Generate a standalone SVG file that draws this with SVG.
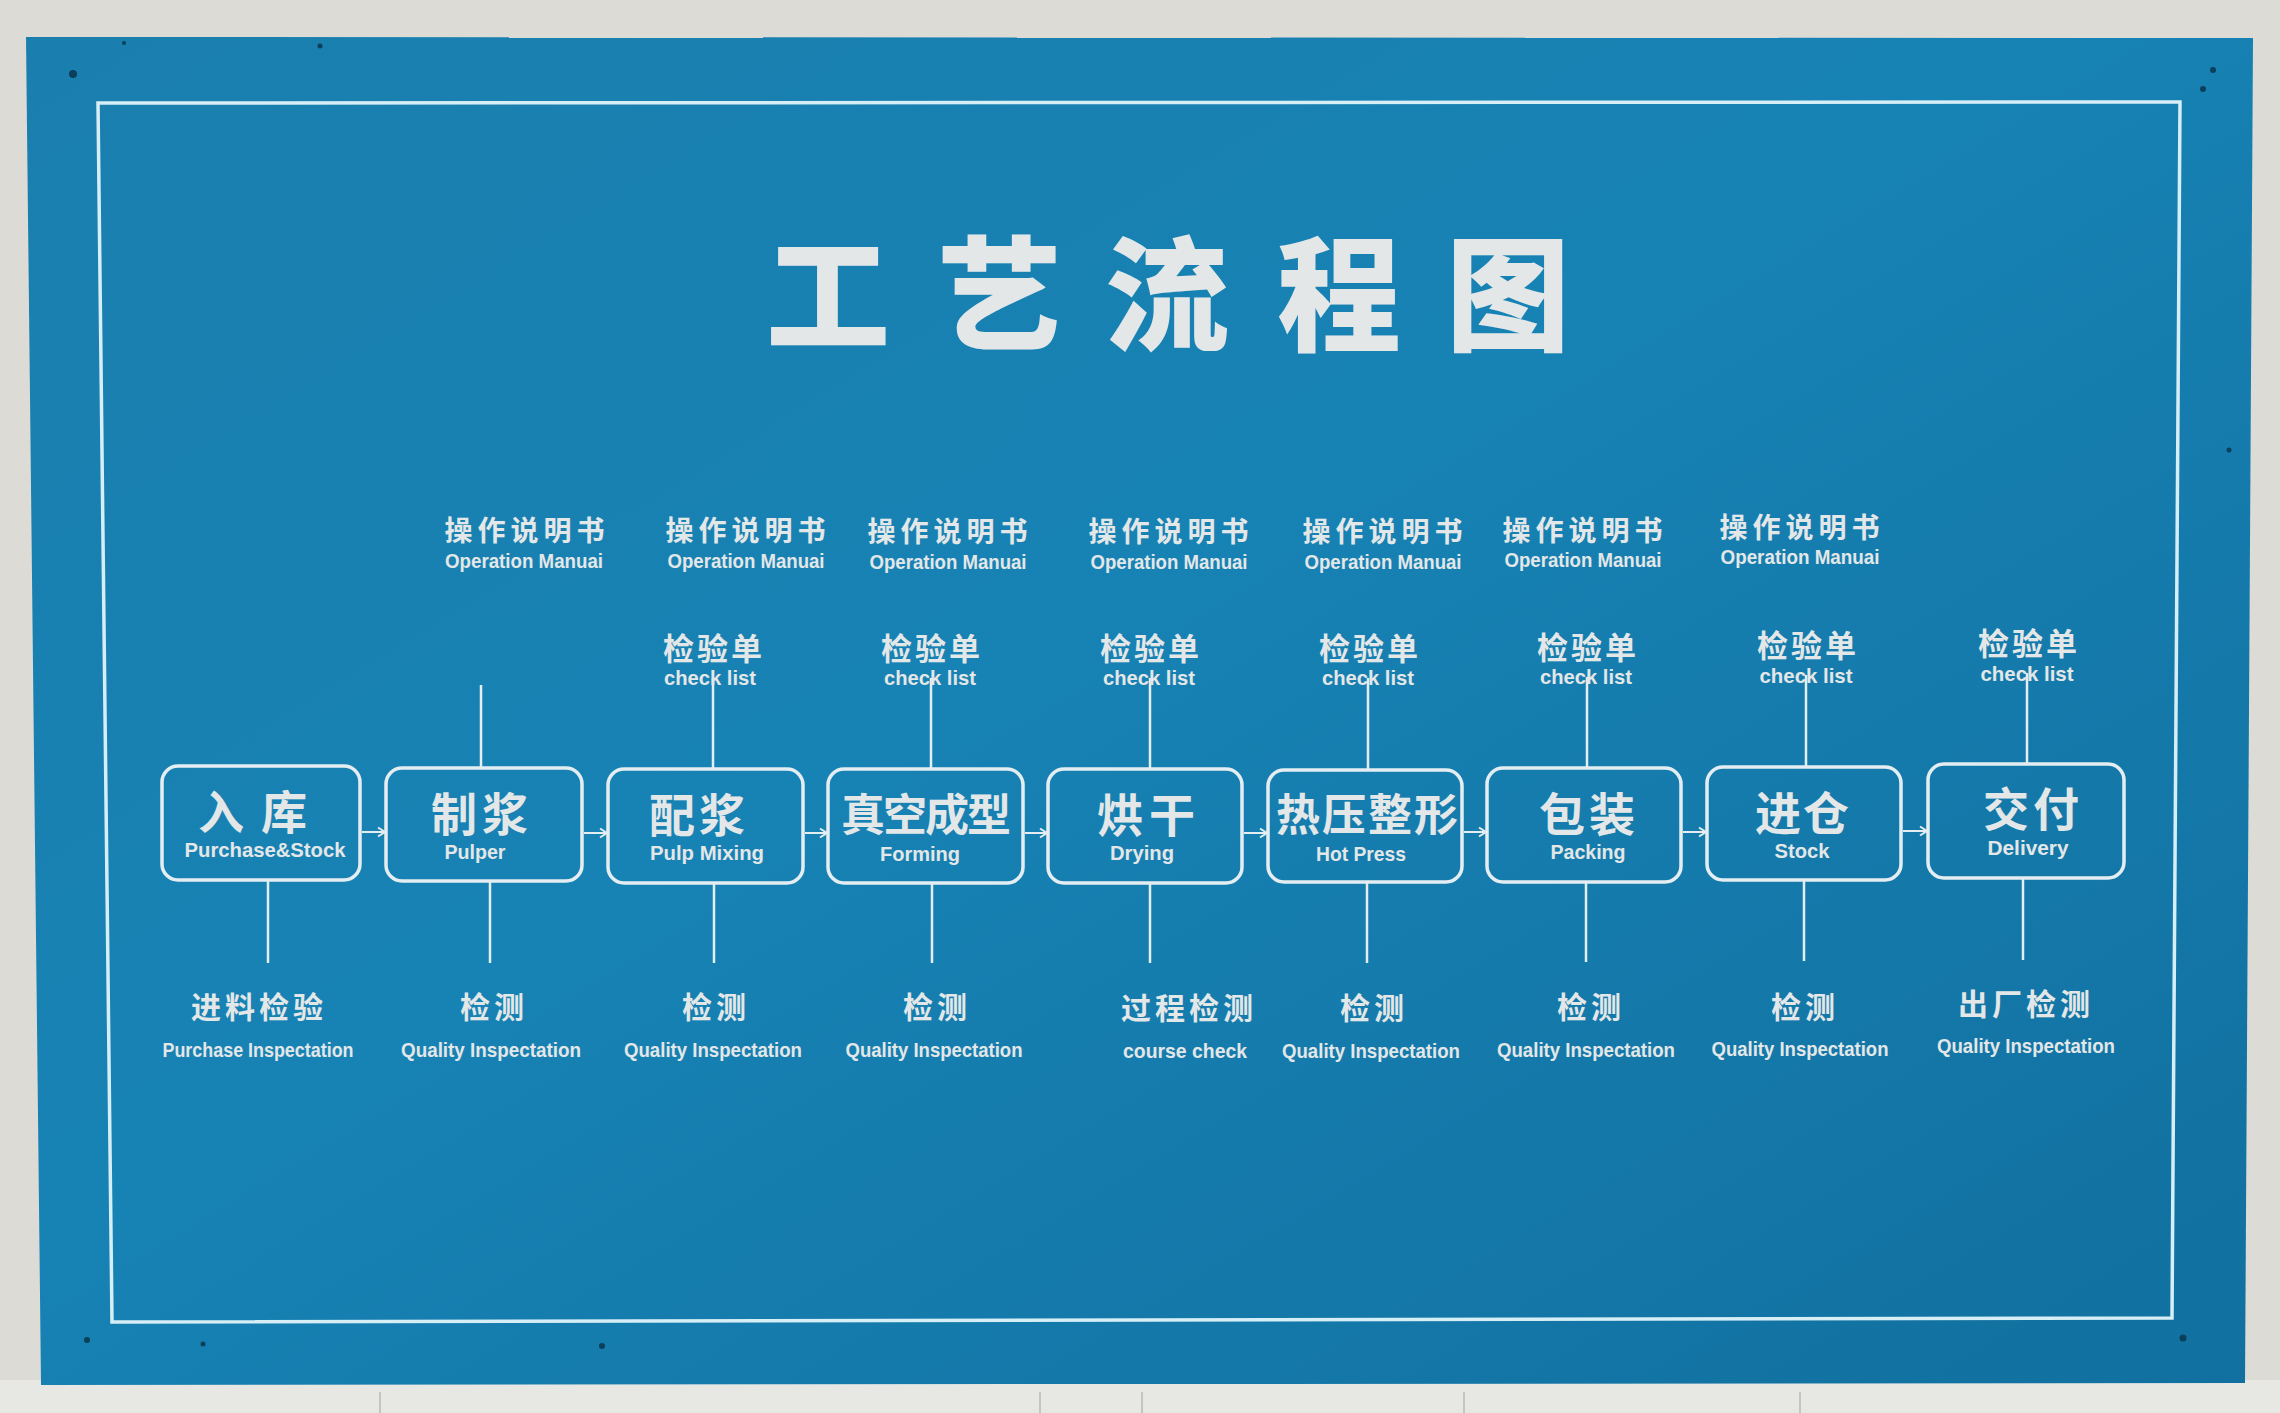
<svg xmlns="http://www.w3.org/2000/svg" width="2280" height="1413" viewBox="0 0 2280 1413">
  <defs>
    <linearGradient id="boardGrad" x1="0" y1="0" x2="1" y2="1">
      <stop offset="0" stop-color="#1a7fae"/>
      <stop offset="0.45" stop-color="#1782b4"/>
      <stop offset="1" stop-color="#11709f"/>
    </linearGradient>
    <marker id="arrow" markerWidth="12" markerHeight="12" refX="9" refY="6" orient="auto" markerUnits="userSpaceOnUse">
      <path d="M2,1.5 L9,6 L2,10.5" fill="none" stroke="#e2eef2" stroke-width="2"/>
    </marker>
    <style>
      .box { fill: none; stroke: #e4eef2; stroke-width: 3.5; }
      .conn { stroke: #e4eef2; stroke-width: 2.5; fill: none; }
      .arr { stroke: #e4eef2; stroke-width: 2; fill: none; }
      .cn { font-family: "Noto Sans CJK SC", "Noto Sans CJK TC", sans-serif; font-weight: 700; fill: #e3e7e8; text-anchor: middle; }
      .en { font-family: "Liberation Sans", Arial, sans-serif; font-weight: 700; fill: #e3e7e8; text-anchor: middle; }
      .main { font-size: 46px; }
      .sub { font-size: 20.5px; }
      .om { font-size: 28px; letter-spacing: 5px; }
      .ck { font-size: 31px; letter-spacing: 3px; }
      .bt { font-size: 30px; letter-spacing: 4px; }
      .dot { fill: #0b3f5a; }
    </style>
  </defs>

  <!-- wall background -->
  <rect x="0" y="0" width="2280" height="1413" fill="#dcdbd6"/>
  <rect x="0" y="1380" width="2280" height="33" fill="#e7e7e4"/>
  <g stroke="#b9b9b6" stroke-width="1.5">
    <line x1="380" y1="1392" x2="380" y2="1413"/>
    <line x1="1040" y1="1392" x2="1040" y2="1413"/>
    <line x1="1142" y1="1392" x2="1142" y2="1413"/>
    <line x1="1464" y1="1392" x2="1464" y2="1413"/>
    <line x1="1800" y1="1392" x2="1800" y2="1413"/>
  </g>

  <!-- board -->
  <polygon points="26,37 2253,38 2245,1383 41,1385" fill="url(#boardGrad)"/>
  <polygon points="98,103 2180,102 2172,1318 112,1322" fill="none" stroke="#d6eef6" stroke-width="3.5"/>
  <g>
    <circle class="dot" cx="73" cy="74" r="4"/>
    <circle class="dot" cx="124" cy="43" r="2"/>
    <circle class="dot" cx="320" cy="46" r="2.5"/>
    <circle class="dot" cx="2213" cy="70" r="3"/>
    <circle class="dot" cx="2203" cy="89" r="3"/>
    <circle class="dot" cx="2229" cy="450" r="2.5"/>
    <circle class="dot" cx="2183" cy="1338" r="3.5"/>
    <circle class="dot" cx="87" cy="1340" r="3"/>
    <circle class="dot" cx="203" cy="1344" r="2.5"/>
    <circle class="dot" cx="602" cy="1346" r="3"/>
  </g>

  <!-- title -->
  <g id="title" class="cn" style="font-size:124px; font-weight:900">
    <text x="828" y="341">工</text>
    <text x="999" y="341">艺</text>
    <text x="1167" y="341">流</text>
    <text x="1339" y="341">程</text>
    <text x="1508" y="341">图</text>
  </g>

  <!-- connectors -->
  <g id="connectors">
    <!-- top lines -->
    <line class="conn" x1="481" y1="685" x2="481" y2="768"/>
    <line class="conn" x1="713" y1="678" x2="713" y2="769"/>
    <line class="conn" x1="931" y1="678" x2="931" y2="769"/>
    <line class="conn" x1="1150" y1="678" x2="1150" y2="769"/>
    <line class="conn" x1="1368" y1="678" x2="1368" y2="770"/>
    <line class="conn" x1="1587" y1="677" x2="1587" y2="768"/>
    <line class="conn" x1="1806" y1="675" x2="1806" y2="767"/>
    <line class="conn" x1="2027" y1="673" x2="2027" y2="764"/>
    <!-- bottom lines -->
    <line class="conn" x1="268" y1="880" x2="268" y2="963"/>
    <line class="conn" x1="490" y1="881" x2="490" y2="963"/>
    <line class="conn" x1="714" y1="883" x2="714" y2="963"/>
    <line class="conn" x1="932" y1="883" x2="932" y2="963"/>
    <line class="conn" x1="1150" y1="883" x2="1150" y2="963"/>
    <line class="conn" x1="1367" y1="882" x2="1367" y2="963"/>
    <line class="conn" x1="1586" y1="882" x2="1586" y2="962"/>
    <line class="conn" x1="1804" y1="880" x2="1804" y2="961"/>
    <line class="conn" x1="2023" y1="878" x2="2023" y2="960"/>
    <!-- flow arrows -->
    <line class="arr" x1="362" y1="832" x2="385" y2="832" marker-end="url(#arrow)"/>
    <line class="arr" x1="584" y1="833" x2="607" y2="833" marker-end="url(#arrow)"/>
    <line class="arr" x1="805" y1="833" x2="827" y2="833" marker-end="url(#arrow)"/>
    <line class="arr" x1="1025" y1="833" x2="1047" y2="833" marker-end="url(#arrow)"/>
    <line class="arr" x1="1244" y1="833" x2="1267" y2="833" marker-end="url(#arrow)"/>
    <line class="arr" x1="1464" y1="832" x2="1486" y2="832" marker-end="url(#arrow)"/>
    <line class="arr" x1="1683" y1="832" x2="1706" y2="832" marker-end="url(#arrow)"/>
    <line class="arr" x1="1903" y1="831" x2="1927" y2="831" marker-end="url(#arrow)"/>
  </g>

  <!-- process nodes -->
  <g id="node-ruku">
    <rect class="box" x="162" y="766" width="198" height="114" rx="16"/>
    <text class="cn main" x="261" y="829" style="letter-spacing:17px">入库</text>
    <text class="en sub" x="265" y="857" textLength="161" lengthAdjust="spacingAndGlyphs">Purchase&amp;Stock</text>
  </g>
  <g id="node-zhijiang">
    <rect class="box" x="386" y="768" width="196" height="113" rx="16"/>
    <text class="cn main" x="482" y="831" style="letter-spacing:5px">制浆</text>
    <text class="en sub" x="475" y="859" textLength="61" lengthAdjust="spacingAndGlyphs">Pulper</text>
  </g>
  <g id="node-peijiang">
    <rect class="box" x="608" y="769" width="195" height="114" rx="16"/>
    <text class="cn main" x="699" y="832" style="letter-spacing:4px">配浆</text>
    <text class="en sub" x="707" y="860" textLength="114" lengthAdjust="spacingAndGlyphs">Pulp Mixing</text>
  </g>
  <g id="node-chengxing">
    <rect class="box" x="828" y="769" width="195" height="114" rx="16"/>
    <text class="cn" x="925" y="831" style="font-size:44px; letter-spacing:-2px">真空成型</text>
    <text class="en sub" x="920" y="861" textLength="80" lengthAdjust="spacingAndGlyphs">Forming</text>
  </g>
  <g id="node-honggan">
    <rect class="box" x="1048" y="769" width="194" height="114" rx="16"/>
    <text class="cn main" x="1149" y="832" style="letter-spacing:6px">烘干</text>
    <text class="en sub" x="1142" y="860" textLength="64" lengthAdjust="spacingAndGlyphs">Drying</text>
  </g>
  <g id="node-reya">
    <rect class="box" x="1268" y="770" width="194" height="112" rx="16"/>
    <text class="cn" x="1368" y="831" style="font-size:44px; letter-spacing:2px">热压整形</text>
    <text class="en sub" x="1361" y="861" textLength="90" lengthAdjust="spacingAndGlyphs">Hot Press</text>
  </g>
  <g id="node-baozhuang">
    <rect class="box" x="1487" y="768" width="194" height="114" rx="16"/>
    <text class="cn main" x="1589" y="831" style="letter-spacing:4px">包装</text>
    <text class="en sub" x="1588" y="859" textLength="75" lengthAdjust="spacingAndGlyphs">Packing</text>
  </g>
  <g id="node-jincang">
    <rect class="box" x="1707" y="767" width="194" height="113" rx="16"/>
    <text class="cn main" x="1803" y="830" style="letter-spacing:2px">进仓</text>
    <text class="en sub" x="1802" y="858" textLength="55" lengthAdjust="spacingAndGlyphs">Stock</text>
  </g>
  <g id="node-jiaofu">
    <rect class="box" x="1928" y="764" width="196" height="114" rx="16"/>
    <text class="cn main" x="2033" y="826" style="letter-spacing:4px">交付</text>
    <text class="en sub" x="2028" y="855" textLength="81" lengthAdjust="spacingAndGlyphs">Delivery</text>
  </g>

  <!-- operation manual labels -->
  <g id="op-manual-1"><text class="cn om" x="527" y="541">操作说明书</text><text class="en sub" x="524" y="568" textLength="158" lengthAdjust="spacingAndGlyphs">Operation Manuai</text></g>
  <g id="op-manual-2"><text class="cn om" x="748" y="541">操作说明书</text><text class="en sub" x="746" y="568" textLength="157" lengthAdjust="spacingAndGlyphs">Operation Manuai</text></g>
  <g id="op-manual-3"><text class="cn om" x="950" y="542">操作说明书</text><text class="en sub" x="948" y="569" textLength="157" lengthAdjust="spacingAndGlyphs">Operation Manuai</text></g>
  <g id="op-manual-4"><text class="cn om" x="1171" y="542">操作说明书</text><text class="en sub" x="1169" y="569" textLength="157" lengthAdjust="spacingAndGlyphs">Operation Manuai</text></g>
  <g id="op-manual-5"><text class="cn om" x="1385" y="542">操作说明书</text><text class="en sub" x="1383" y="569" textLength="157" lengthAdjust="spacingAndGlyphs">Operation Manuai</text></g>
  <g id="op-manual-6"><text class="cn om" x="1585" y="541">操作说明书</text><text class="en sub" x="1583" y="567" textLength="157" lengthAdjust="spacingAndGlyphs">Operation Manuai</text></g>
  <g id="op-manual-7"><text class="cn om" x="1802" y="538">操作说明书</text><text class="en sub" x="1800" y="564" textLength="159" lengthAdjust="spacingAndGlyphs">Operation Manuai</text></g>

  <!-- check list labels -->
  <g id="check-1"><text class="cn ck" x="714" y="660">检验单</text><text class="en sub" x="710" y="685" textLength="92" lengthAdjust="spacingAndGlyphs">check list</text></g>
  <g id="check-2"><text class="cn ck" x="932" y="660">检验单</text><text class="en sub" x="930" y="685" textLength="92" lengthAdjust="spacingAndGlyphs">check list</text></g>
  <g id="check-3"><text class="cn ck" x="1151" y="660">检验单</text><text class="en sub" x="1149" y="685" textLength="92" lengthAdjust="spacingAndGlyphs">check list</text></g>
  <g id="check-4"><text class="cn ck" x="1370" y="660">检验单</text><text class="en sub" x="1368" y="685" textLength="92" lengthAdjust="spacingAndGlyphs">check list</text></g>
  <g id="check-5"><text class="cn ck" x="1588" y="659">检验单</text><text class="en sub" x="1586" y="684" textLength="92" lengthAdjust="spacingAndGlyphs">check list</text></g>
  <g id="check-6"><text class="cn ck" x="1808" y="657">检验单</text><text class="en sub" x="1806" y="683" textLength="93" lengthAdjust="spacingAndGlyphs">check list</text></g>
  <g id="check-7"><text class="cn ck" x="2029" y="655">检验单</text><text class="en sub" x="2027" y="681" textLength="93" lengthAdjust="spacingAndGlyphs">check list</text></g>

  <!-- inspection labels -->
  <g id="insp-1"><text class="cn bt" x="259" y="1018">进料检验</text><text class="en sub" x="258" y="1057" textLength="191" lengthAdjust="spacingAndGlyphs">Purchase Inspectation</text></g>
  <g id="insp-2"><text class="cn bt" x="494" y="1018">检测</text><text class="en sub" x="491" y="1057" textLength="180" lengthAdjust="spacingAndGlyphs">Quality Inspectation</text></g>
  <g id="insp-3"><text class="cn bt" x="716" y="1018">检测</text><text class="en sub" x="713" y="1057" textLength="178" lengthAdjust="spacingAndGlyphs">Quality Inspectation</text></g>
  <g id="insp-4"><text class="cn bt" x="937" y="1018">检测</text><text class="en sub" x="934" y="1057" textLength="177" lengthAdjust="spacingAndGlyphs">Quality Inspectation</text></g>
  <g id="insp-5"><text class="cn bt" x="1189" y="1019">过程检测</text><text class="en sub" x="1185" y="1058" textLength="124" lengthAdjust="spacingAndGlyphs">course check</text></g>
  <g id="insp-6"><text class="cn bt" x="1374" y="1019">检测</text><text class="en sub" x="1371" y="1058" textLength="178" lengthAdjust="spacingAndGlyphs">Quality Inspectation</text></g>
  <g id="insp-7"><text class="cn bt" x="1591" y="1018">检测</text><text class="en sub" x="1586" y="1057" textLength="178" lengthAdjust="spacingAndGlyphs">Quality Inspectation</text></g>
  <g id="insp-8"><text class="cn bt" x="1805" y="1018">检测</text><text class="en sub" x="1800" y="1056" textLength="177" lengthAdjust="spacingAndGlyphs">Quality Inspectation</text></g>
  <g id="insp-9"><text class="cn bt" x="2026" y="1015">出厂检测</text><text class="en sub" x="2026" y="1053" textLength="178" lengthAdjust="spacingAndGlyphs">Quality Inspectation</text></g>
</svg>
